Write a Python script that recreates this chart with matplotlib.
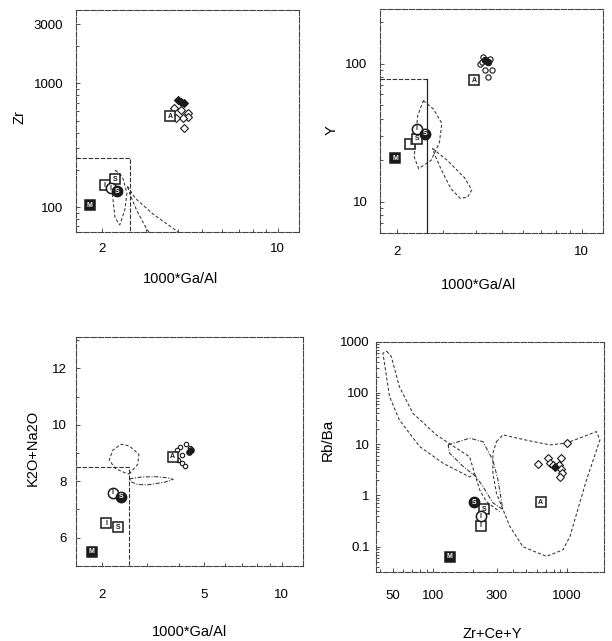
import matplotlib
matplotlib.use('Agg')
import matplotlib.pyplot as plt
from matplotlib.ticker import FixedLocator, NullFormatter, LogLocator, FixedFormatter, MultipleLocator

plt.rcParams['font.family'] = ['Liberation Sans', 'DejaVu Sans']

# ---------------- reference granite types ----------------
ref_labels = ['M', 'I', 'S', 'I', 'S', 'A']
ref_markers = ['s', 's', 's', 'o', 'o', 's']
ref_filled = [True, False, False, False, True, False]

# ---------------- panel 1: Zr vs 1000*Ga/Al ----------------
ref1_x = [1.79, 2.06, 2.26, 2.17, 2.31, 3.75]
ref1_y = [104, 151, 168, 142, 134, 545]
samp1_x = [3.89, 4.14, 4.40, 4.40, 4.20, 4.26, 3.96]
samp1_y = [628, 609, 573, 538, 522, 433, 522]
fill1_x = [4.03, 4.14, 4.25]
fill1_y = [733, 711, 690]
loop1a_x = [2.27, 2.42, 2.52, 2.47, 2.36, 2.26, 2.21, 2.22, 2.27]
loop1a_y = [199, 175, 130, 95, 72, 82, 122, 165, 199]
loop1b_x = [2.53, 2.72, 3.2, 3.9, 4.6, 3.4, 3.0, 2.75, 2.6, 2.53]
loop1b_y = [148, 118, 88, 66, 50, 47, 68, 95, 125, 148]

# ---------------- panel 2: Y vs 1000*Ga/Al ----------------
ref2_x = [1.97, 2.25, 2.38, 2.38, 2.56, 3.92]
ref2_y = [20.6, 26.4, 28.7, 33.9, 31.2, 75.7]
samp2_x = [4.13, 4.25, 4.31, 4.43, 4.59, 4.50, 4.19]
samp2_y = [100, 111, 89.5, 80, 89.5, 108.7, 102.7]
fill2_x = [4.43, 4.31]
fill2_y = [103, 105.6]
loop2a_x = [2.52, 2.75, 2.96, 2.90, 2.70, 2.42, 2.33, 2.35, 2.40, 2.52]
loop2a_y = [54, 47, 37, 27, 20, 17.4, 21, 28, 42, 54]
loop2b_x = [2.73, 3.1, 3.6, 3.84, 3.7, 3.47, 3.2, 2.95, 2.78, 2.73]
loop2b_y = [24.3, 20, 15, 12.2, 10.8, 10.6, 12.5, 17, 22, 24.3]

# ---------------- panel 3: K2O+Na2O vs 1000*Ga/Al ----------------
ref3_x = [1.82, 2.07, 2.31, 2.20, 2.37, 3.76]
ref3_y = [5.50, 6.50, 6.36, 7.59, 7.45, 8.86]
samp3_x = [4.02, 4.25, 4.10, 3.95, 4.10, 4.22, 3.92, 4.41]
samp3_y = [9.21, 9.33, 8.92, 8.74, 8.63, 8.54, 9.10, 9.16]
fill3_x = [4.37, 4.45]
fill3_y = [9.04, 9.10]
loop3a_x = [2.55, 2.75, 2.78, 2.55, 2.37, 2.20, 2.13, 2.25, 2.45, 2.55]
loop3a_y = [8.25, 8.60, 8.95, 9.25, 9.31, 9.10, 8.75, 8.45, 8.30, 8.25]
loop3b_x = [2.55, 2.8, 3.2, 3.6, 3.78, 3.5, 3.0, 2.75, 2.6, 2.55]
loop3b_y = [8.08, 8.14, 8.16, 8.12, 8.06, 7.96, 7.87, 7.88, 7.97, 8.08]

# ---------------- panel 4: Rb/Ba vs Zr+Ce+Y ----------------
ref4_x = [133, 228, 241, 228, 203, 641]
ref4_y = [0.064, 0.255, 0.54, 0.39, 0.73, 0.73]
samp4_x = [612, 727, 757, 916, 879, 906, 931, 890, 794, 1000]
samp4_y = [4.13, 5.33, 4.38, 5.33, 3.95, 3.26, 2.72, 2.33, 3.95, 10.5]
fill4_x = [815]
fill4_y = [3.66]
fieldA_x = [299, 334, 500, 749, 1000, 1675, 1780, 1410, 1060, 940, 707, 472, 376, 299, 281, 281, 299]
fieldA_y = [11.2, 15.2, 12, 9.7, 10.5, 17.6, 12.1, 2.0, 0.158, 0.087, 0.065, 0.1, 0.25, 1.1, 2.7, 6.7, 11.2]
fieldB_x = [45, 48.8, 56, 70.8, 106, 150, 188, 205, 188, 119, 79.5, 56, 47.3, 42.2, 45]
fieldB_y = [650, 510, 133, 40, 15.2, 8.35, 5.7, 2.7, 2.3, 4.26, 9.0, 29.8, 85, 594, 650]
fieldC_x = [130, 188, 237, 281, 307, 326, 334, 281, 237, 211, 168, 133, 130]
fieldC_y = [9.7, 13.1, 11.2, 4.9, 2.0, 0.76, 0.53, 0.72, 1.49, 2.3, 3.7, 6.7, 9.7]
trailD_x = [205, 224, 251, 316]
trailD_y = [2.7, 1.28, 0.76, 0.48]

INK = '#1a1a1a'


def style_axes(ax):
    for sp in ax.spines.values():
        sp.set_linestyle((0, (5, 1.5)))
        sp.set_linewidth(0.8)
        sp.set_color('#444444')
    ax.tick_params(which='both', direction='in', color='#333333', width=0.6,
                   top=False, right=False, labelsize=9.5)
    ax.tick_params(which='major', length=3)
    ax.tick_params(which='minor', length=2)


def draw_refs(ax, xs, ys, ms=7.4):
    for x, y, lab, mk, f in zip(xs, ys, ref_labels, ref_markers, ref_filled):
        ax.plot([x], [y], marker=mk, ms=ms, mfc=INK if f else 'white', mec=INK,
                mew=1.1, ls='none', zorder=5)
        ax.text(x, y, lab, fontsize=5, ha='center', va='center', fontweight='bold',
                color='white' if f else INK, zorder=6)


def draw_samples(ax, xs, ys, fx, fy, marker='D', ms=3.6):
    ax.plot(xs, ys, marker=marker, ms=ms, mfc='white', mec=INK, mew=0.8, ls='none', zorder=4)
    ax.plot(fx, fy, marker=marker, ms=ms + 0.8, mfc=INK, mec=INK, mew=0.8, ls='none', zorder=4)


def curve(ax, xs, ys, ls=(0, (3, 2))):
    ax.plot(xs, ys, color='#333333', lw=0.75, ls=ls, zorder=2)


fig = plt.figure(figsize=(6.12, 6.41), dpi=100)

# ---- panel 1
ax1 = fig.add_axes([0.124, 0.638, 0.364, 0.346])
ax1.set_xscale('log'); ax1.set_yscale('log')
ax1.set_xlim(1.58, 12.1); ax1.set_ylim(63, 3900)
curve(ax1, loop1a_x, loop1a_y)
curve(ax1, loop1b_x, loop1b_y)
ax1.plot([1.58, 2.6, 2.6], [250, 250, 63], color='#333333', lw=0.8, ls=(0, (4, 1.5)), zorder=2)
draw_samples(ax1, samp1_x, samp1_y, fill1_x, fill1_y)
draw_refs(ax1, ref1_x, ref1_y)
ax1.xaxis.set_major_locator(FixedLocator([2, 10]))
ax1.xaxis.set_major_formatter(FixedFormatter(['2', '10']))
ax1.xaxis.set_minor_locator(LogLocator(subs=range(2, 10)))
ax1.xaxis.set_minor_formatter(NullFormatter())
ax1.yaxis.set_major_locator(FixedLocator([100, 1000, 3000]))
ax1.yaxis.set_major_formatter(FixedFormatter(['100', '1000', '3000']))
ax1.yaxis.set_minor_locator(LogLocator(subs=range(2, 10)))
ax1.yaxis.set_minor_formatter(NullFormatter())
style_axes(ax1)
ax1.tick_params(axis='x', pad=8)
ax1.tick_params(axis='y', pad=9)
ax1.set_xlabel('1000*Ga/Al', fontsize=10.5)
ax1.set_ylabel('Zr', fontsize=10.5)
ax1.xaxis.set_label_coords(0.47, -0.178)
ax1.yaxis.set_label_coords(-0.222, 0.518)

# ---- panel 2
ax2 = fig.add_axes([0.621, 0.6365, 0.364, 0.349])
ax2.set_xscale('log'); ax2.set_yscale('log')
ax2.set_xlim(1.73, 12.0); ax2.set_ylim(5.95, 247)
curve(ax2, loop2a_x, loop2a_y)
curve(ax2, loop2b_x, loop2b_y)
ax2.plot([1.73, 2.6], [78, 78], color='#333333', lw=0.8, ls=(0, (4, 1.5)), zorder=2)
ax2.plot([2.6, 2.6], [78, 5.95], color='#222222', lw=0.9, zorder=2)
draw_samples(ax2, samp2_x, samp2_y, fill2_x, fill2_y, marker='o', ms=3.8)
draw_refs(ax2, ref2_x, ref2_y)
ax2.xaxis.set_major_locator(FixedLocator([2, 10]))
ax2.xaxis.set_major_formatter(FixedFormatter(['2', '10']))
ax2.xaxis.set_minor_locator(LogLocator(subs=range(2, 10)))
ax2.xaxis.set_minor_formatter(NullFormatter())
ax2.yaxis.set_major_locator(FixedLocator([10, 100]))
ax2.yaxis.set_major_formatter(FixedFormatter(['10', '100']))
ax2.yaxis.set_minor_locator(LogLocator(subs=range(2, 10)))
ax2.yaxis.set_minor_formatter(NullFormatter())
style_axes(ax2)
ax2.tick_params(axis='x', pad=9)
ax2.tick_params(axis='y', pad=9)
ax2.set_xlabel('1000*Ga/Al', fontsize=10.5)
ax2.set_ylabel('Y', fontsize=10.5)
ax2.xaxis.set_label_coords(0.44, -0.203)
ax2.yaxis.set_label_coords(-0.187, 0.46)

# ---- panel 3
ax3 = fig.add_axes([0.124, 0.1175, 0.371, 0.357])
ax3.set_xscale('log')
ax3.set_xlim(1.58, 12.1); ax3.set_ylim(5.0, 13.12)
curve(ax3, loop3a_x, loop3a_y)
curve(ax3, loop3b_x, loop3b_y, ls=(0, (4, 1.5, 1, 1.5)))
ax3.plot([1.58, 2.55, 2.55], [8.5, 8.5, 5.0], color='#333333', lw=0.8, ls=(0, (4, 1.5)), zorder=2)
draw_samples(ax3, samp3_x, samp3_y, fill3_x, fill3_y, marker='o', ms=3.2)
draw_refs(ax3, ref3_x, ref3_y)
ax3.xaxis.set_major_locator(FixedLocator([2, 5, 10]))
ax3.xaxis.set_major_formatter(FixedFormatter(['2', '5', '10']))
ax3.xaxis.set_minor_locator(LogLocator(subs=range(2, 10)))
ax3.xaxis.set_minor_formatter(NullFormatter())
ax3.yaxis.set_major_locator(FixedLocator([6, 8, 10, 12]))
ax3.yaxis.set_minor_locator(MultipleLocator(1))
style_axes(ax3)
ax3.tick_params(axis='x', pad=17)
ax3.tick_params(axis='y', pad=6.5)
ax3.set_xlabel('1000*Ga/Al', fontsize=10.5)
ax3.set_ylabel('K2O+Na2O', fontsize=10.5)
ax3.xaxis.set_label_coords(0.50, -0.261)
ax3.yaxis.set_label_coords(-0.161, 0.514)

# ---- panel 4
ax4 = fig.add_axes([0.614, 0.107, 0.3725, 0.36])
ax4.set_xscale('log'); ax4.set_yscale('log')
ax4.set_xlim(37.3, 1900); ax4.set_ylim(0.0316, 1000)
curve(ax4, fieldA_x, fieldA_y)
curve(ax4, fieldB_x, fieldB_y)
curve(ax4, fieldC_x, fieldC_y, ls=(0, (4, 1.5, 1, 1.5)))
curve(ax4, trailD_x, trailD_y)
draw_samples(ax4, samp4_x, samp4_y, fill4_x, fill4_y, marker='D', ms=3.6)
draw_refs(ax4, ref4_x, ref4_y)
ax4.xaxis.set_major_locator(FixedLocator([50, 100, 300, 1000]))
ax4.xaxis.set_major_formatter(FixedFormatter(['50', '100', '300', '1000']))
ax4.xaxis.set_minor_locator(LogLocator(subs=range(2, 10)))
ax4.xaxis.set_minor_formatter(NullFormatter())
ax4.yaxis.set_major_locator(FixedLocator([0.1, 1, 10, 100, 1000]))
ax4.yaxis.set_major_formatter(FixedFormatter(['0.1', '1', '10', '100', '1000']))
ax4.yaxis.set_minor_locator(LogLocator(subs=range(2, 10)))
ax4.yaxis.set_minor_formatter(NullFormatter())
style_axes(ax4)
ax4.tick_params(axis='x', pad=13)
ax4.tick_params(axis='y', pad=4.5)
ax4.set_xlabel('Zr+Ce+Y', fontsize=10.5)
ax4.set_ylabel('Rb/Ba', fontsize=11)
ax4.xaxis.set_label_coords(0.513, -0.235)
ax4.yaxis.set_label_coords(-0.18, 0.574)

fig.savefig('out.png', dpi=100)
